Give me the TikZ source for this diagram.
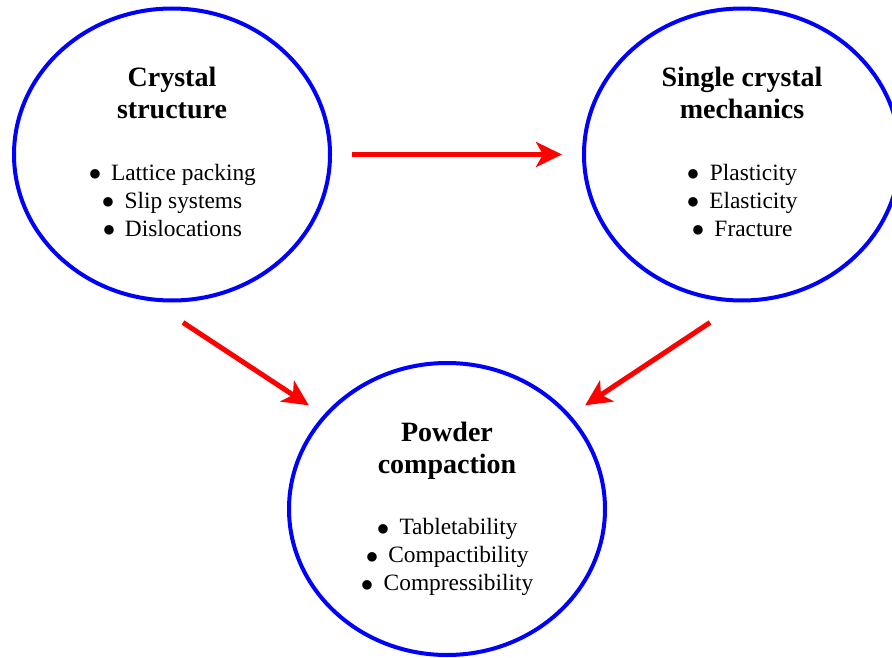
\documentclass[tikz,border=0pt]{standalone}
\usepackage{fontspec}
\setmainfont{Liberation Serif}
\usetikzlibrary{arrows.meta,shapes.geometric}

\newcommand{\itembullet}{\smash{\raisebox{-0.34em}{\scalebox{1.7}{\textbullet}}}\hspace{9pt}}

\begin{document}
\begin{tikzpicture}[x=1pt, y=-1pt,
	bubble/.style={ellipse, draw=blue, line width=4pt, minimum width=316pt, minimum height=292pt},
	heading/.style={align=center, font=\fontsize{28}{32}\selectfont\bfseries},
	items/.style={align=center, font=\fontsize{23.4}{28}\selectfont},
	link/.style={draw=red, line width=5pt, -{Stealth[length=26pt, width=25pt, inset=7pt]}}]

	\useasboundingbox (0,0) rectangle (892,658);

	% Nodes
	\node[bubble] (crystal) at (172,154.5) {};
	\node[bubble] (single) at (742,154.5) {};
	\node[bubble] (powder) at (447,509) {};

	\node[heading] (crystaltitle) at (172,93) {Crystal\\structure};
	\node[heading] (singletitle) at (742,93) {Single crystal\\mechanics};
	\node[heading] (powdertitle) at (447,451) {Powder\\compaction};

	\node[items] (crystallist) at (172,200) {\itembullet Lattice packing\\\itembullet Slip systems\\\itembullet Dislocations};
	\node[items] (singlelist) at (742,200) {\itembullet Plasticity\\\itembullet Elasticity\\\itembullet Fracture};
	\node[items] (powderlist) at (447,557) {\itembullet Tabletability\\\itembullet Compactibility\\\itembullet Compressibility};

	% Edges
	\draw[link] ([xshift=20pt]crystal.east) -- ([xshift=-20pt]single.west);
	\draw[link] ([shift={(11,20)}]crystal.south) -- ([shift={(-25,1)}]powder.north west);
	\draw[link] ([shift={(-32,20)}]single.south) -- ([shift={(25,1)}]powder.north east);

\end{tikzpicture}
\end{document}
